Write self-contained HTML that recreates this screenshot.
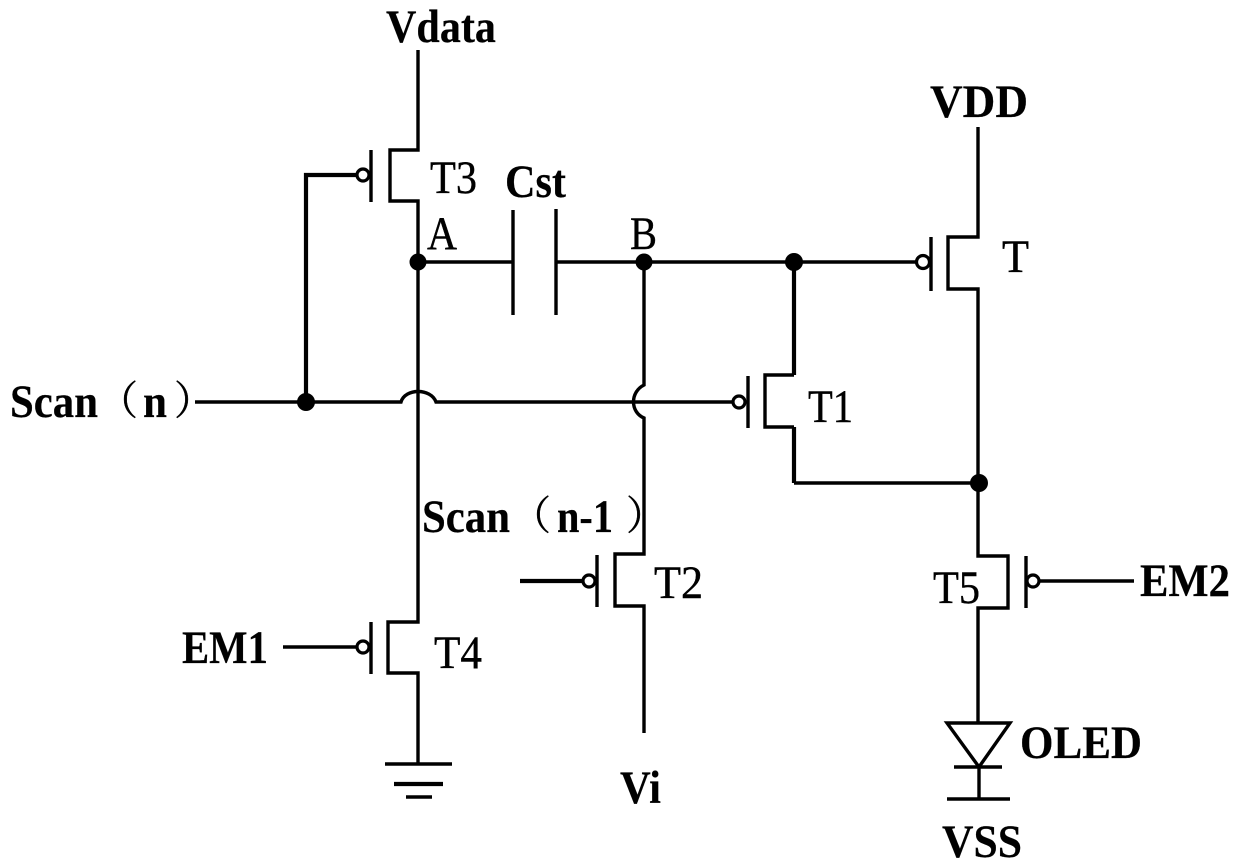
<!DOCTYPE html>
<html>
<head>
<meta charset="utf-8">
<style>
html,body{margin:0;padding:0;background:#fff;width:1240px;height:868px;overflow:hidden}
svg{display:block}
.w{fill:none;stroke:#000;stroke-width:3.4;stroke-linejoin:miter;stroke-linecap:butt}
.t{stroke-width:4.2}
.b{fill:#fff;stroke:#000;stroke-width:3.2}
text{font-family:"Liberation Serif","Noto Serif CJK SC",serif;font-size:47px;fill:#000;stroke:#000;stroke-width:.4}
.bd{font-weight:bold;stroke-width:.2}
.p{font-size:40px}
</style>
</head>
<body>
<svg width="1240" height="868" viewBox="0 0 1240 868" xmlns="http://www.w3.org/2000/svg">
<rect width="1240" height="868" fill="#fff"/>

<!-- T3 branch -->
<path class="w" d="M418 50V150H390V201H418V622H388V673H418V765"/>
<path class="w" d="M371 150V202"/>
<path class="w t" d="M357 175H306V402"/>
<circle class="b" cx="363" cy="175" r="6"/>

<!-- capacitor -->
<path class="w" d="M418 262H513M513 210V315M556 209V315M556 262H917"/>

<!-- T -->
<path class="w" d="M931 237V291"/>
<path class="w" d="M978 127V237H948V289H978V556H1008V608H978V723"/>
<circle class="b" cx="923" cy="262" r="6.5"/>

<!-- Scan n line with jumps -->
<path class="w" d="M195 402H401C405 388 431 388 436 402H733"/>
<circle class="b" cx="739" cy="402" r="6"/>

<!-- B vertical with jump -->
<path class="w" d="M644 262V385C630 392 630 412 644 418V554H615V606H644V733"/>
<path class="w" d="M597 555V607"/>
<path class="w t" d="M520 581H583"/>
<circle class="b" cx="589" cy="581" r="6"/>

<!-- T1 -->
<path class="w" d="M748 376V428"/>
<path class="w" d="M794 375H765V427H794"/>
<path class="w t" d="M794 262V375M794 427V483"/>
<path class="w" d="M794 483H979"/>

<!-- T5 gate -->
<path class="w" d="M1026 556V608"/>
<path class="w" d="M1040 581H1134"/>
<circle class="b" cx="1033" cy="581" r="6"/>

<!-- OLED -->
<path class="w" d="M947 723H1010L979 767Z"/>
<path class="w" d="M954 767H1002M979 767V799M947 799H1010"/>

<!-- T4 gate -->
<path class="w" d="M371 622V674"/>
<path class="w" d="M283 647H356"/>
<circle class="b" cx="363" cy="647" r="6"/>

<!-- ground -->
<path class="w" d="M385 764H452"/>
<path class="w t" d="M394 784H443"/>
<path class="w" d="M406 797H432"/>

<!-- nodes -->
<circle cx="418" cy="262" r="8.5"/>
<circle cx="644" cy="262" r="8.5"/>
<circle cx="794" cy="262" r="9"/>
<circle cx="306" cy="402" r="9"/>
<circle cx="979" cy="483" r="9"/>

<!-- labels -->
<text class="bd" x="386" y="42" textLength="110" lengthAdjust="spacingAndGlyphs">Vdata</text>
<text x="430" y="193" textLength="47" lengthAdjust="spacingAndGlyphs">T3</text>
<text class="bd" x="505" y="197" textLength="61" lengthAdjust="spacingAndGlyphs">Cst</text>
<text x="427" y="249" textLength="30" lengthAdjust="spacingAndGlyphs">A</text>
<text x="630" y="249" textLength="27" lengthAdjust="spacingAndGlyphs">B</text>
<text class="bd" x="930" y="117" textLength="98" lengthAdjust="spacingAndGlyphs">VDD</text>
<text x="1002" y="272" textLength="27" lengthAdjust="spacingAndGlyphs">T</text>
<text x="808" y="422" textLength="45" lengthAdjust="spacingAndGlyphs">T1</text>
<text x="654" y="598" textLength="49" lengthAdjust="spacingAndGlyphs">T2</text>
<text x="434" y="668" textLength="48" lengthAdjust="spacingAndGlyphs">T4</text>
<text x="933" y="603" textLength="47" lengthAdjust="spacingAndGlyphs">T5</text>
<text class="bd" x="10" y="417" textLength="88" lengthAdjust="spacingAndGlyphs">Scan</text>
<text class="p" x="98" y="414">（</text>
<text class="bd" x="143" y="417" textLength="24" lengthAdjust="spacingAndGlyphs">n</text>
<text class="p" x="174" y="414">）</text>
<text class="bd" x="422" y="532" textLength="88" lengthAdjust="spacingAndGlyphs">Scan</text>
<text class="p" x="511" y="529">（</text>
<text class="bd" x="557" y="532" textLength="56" lengthAdjust="spacingAndGlyphs">n-1</text>
<text class="p" x="626" y="529">）</text>
<text class="bd" x="182" y="663" textLength="86" lengthAdjust="spacingAndGlyphs">EM1</text>
<text class="bd" x="1140" y="596" textLength="90" lengthAdjust="spacingAndGlyphs">EM2</text>
<text class="bd" x="1020" y="758" textLength="122" lengthAdjust="spacingAndGlyphs">OLED</text>
<text class="bd" x="942" y="857" textLength="80" lengthAdjust="spacingAndGlyphs">VSS</text>
<text class="bd" x="620" y="803" textLength="41" lengthAdjust="spacingAndGlyphs">Vi</text>
</svg>
</body>
</html>
